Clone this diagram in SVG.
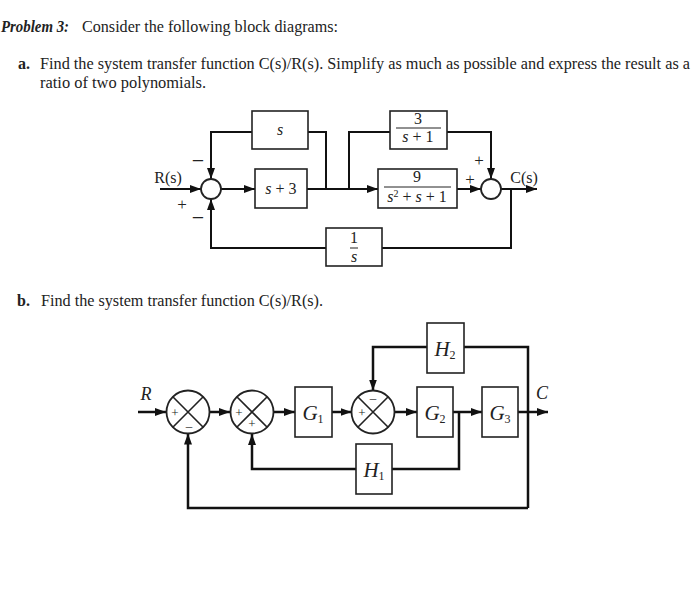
<svg xmlns="http://www.w3.org/2000/svg" width="700" height="602" viewBox="0 0 700 602">
<style>
text{font-family:"Liberation Serif","Times New Roman",serif;fill:#222}
.body{font-size:16px}
.ln{fill:none;stroke:#111;stroke-width:2}
.lnb{fill:none;stroke:#111;stroke-width:2.5}
.box{fill:#fff;stroke:#222;stroke-width:1.6}
.boxb{fill:#fff;stroke:#222;stroke-width:1.6}
.circ{fill:#fff;stroke:#222;stroke-width:1.8}
.it{font-style:italic}
.m{font-size:16px;text-anchor:middle}
.g{font-size:21px;font-style:italic;text-anchor:middle}
.sub{font-size:12px;font-style:normal}
.sg{font-size:17px;text-anchor:middle}
.mn{font-size:22px;text-anchor:middle}
.sgs{font-size:13px;text-anchor:middle}
</style>
<defs>
<marker id="ah" markerUnits="userSpaceOnUse" markerWidth="11" markerHeight="8" refX="11" refY="4" orient="auto">
<path d="M0,0 L11,4 L0,8 z" fill="#111"/>
</marker>
</defs>
<rect width="700" height="602" fill="#fff"/>

<g id="title">
<text class="body" x="1" y="32" font-weight="bold" font-style="italic" textLength="68" lengthAdjust="spacingAndGlyphs">Problem 3:</text>
<text class="body" x="82" y="32" textLength="256" lengthAdjust="spacingAndGlyphs">Consider the following block diagrams:</text>
<text class="body" x="18" y="69" font-weight="bold">a.</text>
<text class="body" x="40" y="69" textLength="650" lengthAdjust="spacingAndGlyphs">Find the system transfer function C(s)/R(s). Simplify as much as possible and express the result as a</text>
<text class="body" x="40" y="88" textLength="166" lengthAdjust="spacingAndGlyphs">ratio of two polynomials.</text>
<text class="body" x="17" y="306" font-weight="bold">b.</text>
<text class="body" x="41" y="306" textLength="282" lengthAdjust="spacingAndGlyphs">Find the system transfer function C(s)/R(s).</text>
</g>

<!-- Diagram a -->
<g id="a-connectors">
<path class="ln" d="M160,189 L201,189" marker-end="url(#ah)"/>
<path class="ln" d="M221,189 L255,189" marker-end="url(#ah)"/>
<path class="ln" d="M307,189 L378,189" marker-end="url(#ah)"/>
<path class="ln" d="M326,189 L326,132 L308,132"/>
<path class="ln" d="M252,132 L211,132 L211,179" marker-end="url(#ah)"/>
<path class="ln" d="M349,189 L349,132 L390,132"/>
<path class="ln" d="M447,132 L491,132 L491,179" marker-end="url(#ah)"/>
<path class="ln" d="M457,189 L481,189" marker-end="url(#ah)"/>
<path class="ln" d="M501,189 L537,189" marker-end="url(#ah)"/>
<path class="ln" d="M511,189 L511,248 L382,248"/>
<path class="ln" d="M326,248 L211,248 L211,199" marker-end="url(#ah)"/>
</g>
<g id="a-sum1">
<circle class="circ" cx="211" cy="189" r="10"/>
<text x="168" y="183" font-size="16" text-anchor="middle">R(s)</text>
<text class="sg" x="182" y="210">+</text>
<text class="mn" x="198" y="168">−</text>
<text class="mn" x="198" y="225">−</text>
</g>
<g id="a-s">
<rect class="box" x="252" y="111" width="56" height="38"/>
<text class="m it" x="280" y="135">s</text>
</g>
<g id="a-s3">
<rect class="box" x="255" y="169" width="52" height="39"/>
<text class="m" x="281" y="194"><tspan class="it">s</tspan> + 3</text>
</g>
<g id="a-3s1">
<rect class="box" x="390" y="111" width="57" height="38"/>
<text class="m" x="418" y="124" font-size="14">3</text>
<line x1="396" y1="128" x2="441" y2="128" stroke="#222" stroke-width="1"/>
<text class="m" x="418" y="142" font-size="14"><tspan class="it">s</tspan> + 1</text>
</g>
<g id="a-9">
<rect class="box" x="378" y="169" width="79" height="39"/>
<text class="m" x="417" y="182" font-size="14">9</text>
<line x1="384" y1="187" x2="451" y2="187" stroke="#222" stroke-width="1"/>
<text class="m" x="417" y="202" font-size="14"><tspan class="it">s</tspan><tspan font-size="10" dy="-5">2</tspan><tspan dy="5"> + </tspan><tspan class="it">s</tspan> + 1</text>
</g>
<g id="a-sum2">
<circle class="circ" cx="491" cy="189" r="10"/>
<text class="sg" x="479" y="166">+</text>
<text class="sg" x="470" y="185">+</text>
<text x="524" y="183" font-size="16" text-anchor="middle">C(s)</text>
</g>
<g id="a-1s">
<rect class="box" x="326" y="228" width="56" height="38"/>
<text class="m" x="354" y="243" font-size="13">1</text>
<line x1="350" y1="248" x2="358" y2="248" stroke="#222" stroke-width="1"/>
<text class="m it" x="354" y="262" font-size="14">s</text>
</g>

<!-- Diagram b -->
<g id="b-connectors">
<path class="lnb" d="M138,412 L166,412" marker-end="url(#ah)"/>
<path class="lnb" d="M209.5,412 L230,412" marker-end="url(#ah)"/>
<path class="lnb" d="M274,412 L295,412" marker-end="url(#ah)"/>
<path class="lnb" d="M332,412 L351.5,412" marker-end="url(#ah)"/>
<path class="lnb" d="M394.5,412 L417,412" marker-end="url(#ah)"/>
<path class="lnb" d="M453,412 L482,412" marker-end="url(#ah)"/>
<path class="lnb" d="M518,412 L548,412" marker-end="url(#ah)"/>
<path class="lnb" d="M528,508 L528,347 L464,347"/>
<path class="lnb" d="M427,347 L373,347 L373,390.5" marker-end="url(#ah)"/>
<path class="lnb" d="M459,412 L459,469 L392,469"/>
<path class="lnb" d="M356,469 L252,469 L252,434" marker-end="url(#ah)"/>
<path class="lnb" d="M528,508 L188,508 L188,433.5" marker-end="url(#ah)"/>
</g>
<g id="b-sum1">
<circle class="circ" cx="188" cy="412" r="21.5"/>
<path d="M172.8,396.8 L203.2,427.2 M203.2,396.8 L172.8,427.2" stroke="#222" stroke-width="1.6"/>
<text class="sgs" x="175" y="417">+</text>
<text class="sgs" x="189" y="430">–</text>
<text x="146" y="400" font-size="18" class="it" text-anchor="middle">R</text>
</g>
<g id="b-sum2">
<circle class="circ" cx="252" cy="412" r="21.5"/>
<path d="M236.8,396.8 L267.2,427.2 M267.2,396.8 L236.8,427.2" stroke="#222" stroke-width="1.6"/>
<text class="sgs" x="239" y="417">+</text>
<text class="sgs" x="252" y="428">+</text>
</g>
<g id="b-G1">
<rect class="boxb" x="295" y="387" width="37" height="50"/>
<text class="g" x="313" y="420">G<tspan class="sub" dy="3">1</tspan></text>
</g>
<g id="b-sum3">
<circle class="circ" cx="373" cy="412" r="21.5"/>
<path d="M357.8,396.8 L388.2,427.2 M388.2,396.8 L357.8,427.2" stroke="#222" stroke-width="1.6"/>
<text class="sgs" x="373" y="402">–</text>
<text class="sgs" x="362" y="417">+</text>
</g>
<g id="b-G2">
<rect class="boxb" x="417" y="387" width="36" height="50"/>
<text class="g" x="435" y="420">G<tspan class="sub" dy="3">2</tspan></text>
</g>
<g id="b-G3">
<rect class="boxb" x="482" y="387" width="36" height="50"/>
<text class="g" x="500" y="420">G<tspan class="sub" dy="3">3</tspan></text>
</g>
<g id="b-H2">
<rect class="boxb" x="427" y="323" width="37" height="50"/>
<text class="g" x="445" y="356">H<tspan class="sub" dy="3">2</tspan></text>
</g>
<g id="b-H1">
<rect class="boxb" x="356" y="444" width="36" height="50"/>
<text class="g" x="374" y="477">H<tspan class="sub" dy="3">1</tspan></text>
</g>
<text x="542" y="399" font-size="18" class="it" text-anchor="middle">C</text>
</svg>
